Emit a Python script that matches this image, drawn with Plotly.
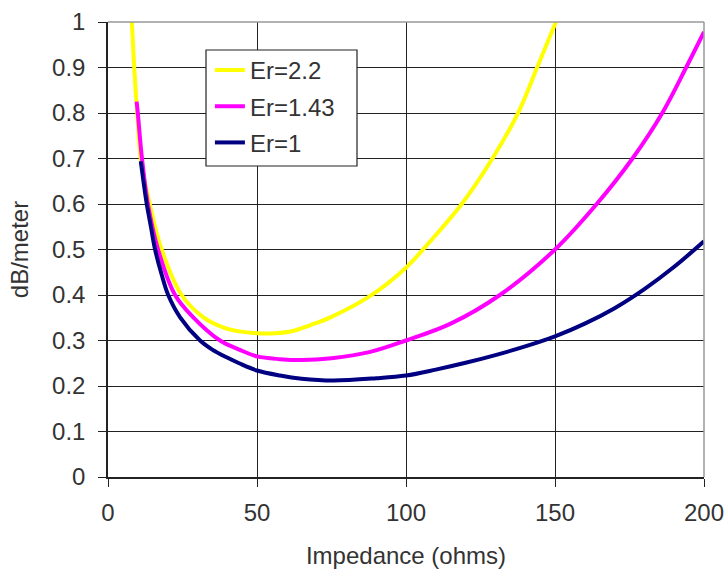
import plotly.graph_objects as go

# Er = 2.2
x_er22 = [8, 8.8, 9.8, 11, 14, 18, 24.7, 32, 38.6, 44, 50, 56, 62, 68, 75, 88, 100,
          105.7, 118.7, 129, 137.6, 144, 150.3]
y_er22 = [1.0, 0.9, 0.8, 0.7, 0.6, 0.5, 0.4, 0.351, 0.329, 0.32, 0.316, 0.316, 0.321, 0.334, 0.352, 0.398, 0.46,
          0.5, 0.6, 0.7, 0.8, 0.9, 1.0]

# Er = 1.43
x_er143 = [9.6, 10, 11.4, 13.4, 16.8, 22.5, 28.6, 37.6, 44, 50, 57.7, 65, 75, 88, 100,
           115, 131.5, 150, 164, 176, 186, 194, 200]
y_er143 = [0.825, 0.8, 0.7, 0.6, 0.5, 0.4, 0.351, 0.3, 0.28, 0.265, 0.259, 0.257, 0.261, 0.275, 0.30,
           0.337, 0.4, 0.5, 0.6, 0.7, 0.8, 0.9, 0.978]

# Er = 1
x_er1 = [11, 12, 13, 14.4, 15.8, 18, 20.2, 24.2, 30.9, 35, 39.8, 44, 50, 57.7, 65, 75.6, 90, 100,
         110, 120, 130, 140, 150, 160, 170, 180, 190, 200]
y_er1 = [0.694, 0.645, 0.6, 0.55, 0.5, 0.445, 0.4, 0.351, 0.3, 0.28, 0.263, 0.25, 0.234, 0.223, 0.216, 0.212, 0.217, 0.223,
         0.236, 0.251, 0.268, 0.287, 0.309, 0.337, 0.371, 0.413, 0.462, 0.518]

series = [
    ("Er=2.2", x_er22, y_er22, "#FFFF00"),
    ("Er=1.43", x_er143, y_er143, "#FF00FF"),
    ("Er=1", x_er1, y_er1, "#000080"),
]

x_ticks = [0, 50, 100, 150, 200]
y_ticks = [0, 0.1, 0.2, 0.3, 0.4, 0.5, 0.6, 0.7, 0.8, 0.9, 1]
y_tick_text = ["0", "0.1", "0.2", "0.3", "0.4", "0.5", "0.6", "0.7", "0.8", "0.9", "1"]

FONT = "Liberation Sans, Arial, sans-serif"
TXT = "#333333"

fig = go.Figure()
for i, (name, xs, ys, col) in enumerate(series):
    fig.add_trace(go.Scatter(
        x=xs, y=ys, name=name, mode="lines",
        line=dict(color=col, width=4, shape="spline", smoothing=1.0),
        legendgroup=f"g{i}",
    ))

fig.update_layout(
    width=726, height=570,
    margin=dict(l=108, r=22, t=22, b=93),
    paper_bgcolor="white", plot_bgcolor="white",
    font=dict(family=FONT, size=24, color=TXT),
    showlegend=True,
    legend=dict(
        x=0.171, y=0.943, xanchor="left", yanchor="top",
        bgcolor="rgba(0,0,0,0)", borderwidth=0,
        font=dict(family=FONT, size=24, color=TXT),
        tracegroupgap=2,
    ),
)

fig.update_xaxes(
    range=[0, 200], tickvals=x_ticks, ticks="outside", ticklen=8,
    tickcolor="#222222", showgrid=True, gridcolor="#222222", gridwidth=1,
    showline=True, linecolor="#222222", linewidth=1.5, zeroline=False,
    title=dict(text="Impedance (ohms)", standoff=23,
               font=dict(family=FONT, size=24, color=TXT)),
    tickfont=dict(family=FONT, size=24, color=TXT),
    ticklabelstandoff=5, automargin=False,
)
fig.update_yaxes(
    range=[0, 1], tickvals=y_ticks, ticktext=y_tick_text, ticks="outside", ticklen=8,
    tickcolor="#222222", showgrid=True, gridcolor="#222222", gridwidth=1,
    showline=True, linecolor="#222222", linewidth=1.5, zeroline=False,
    title=dict(text="dB/meter", standoff=17,
               font=dict(family=FONT, size=24, color=TXT)),
    tickfont=dict(family=FONT, size=24, color=TXT),
    ticklabelstandoff=8, automargin=False,
)

# gray frame on top and right
fig.add_shape(type="line", xref="paper", yref="paper", x0=0, x1=1, y0=1, y1=1,
              line=dict(color="#999999", width=1.5))
fig.add_shape(type="line", xref="paper", yref="paper", x0=1, x1=1, y0=0, y1=1,
              line=dict(color="#999999", width=1.5))
# legend frame
fig.add_shape(type="rect", xref="paper", yref="paper",
              x0=(206 - 108) / 596, x1=(357 - 108) / 596,
              y0=(477 - 166) / 455, y1=(477 - 50) / 455,
              fillcolor="white", line=dict(color="#222222", width=1.2), layer="above")

fig.write_html("out.html")
